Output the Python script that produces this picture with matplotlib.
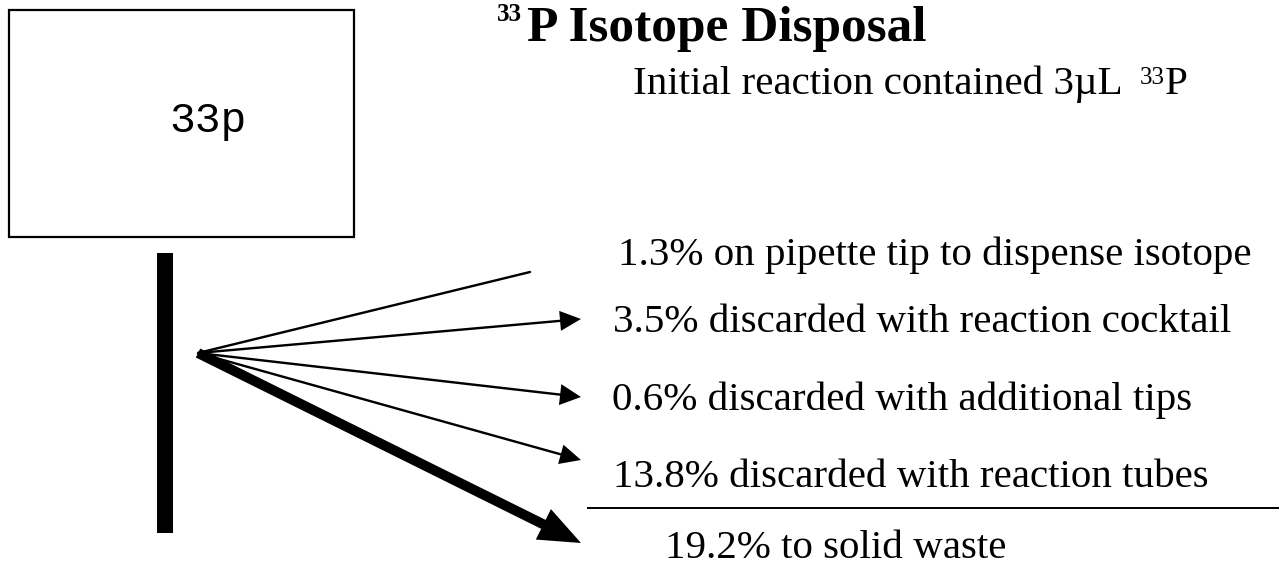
import matplotlib
matplotlib.use("Agg")
import matplotlib.pyplot as plt
from matplotlib.patches import Rectangle, FancyArrow

# ---- content ----
title_sup = "33"
title_main = "P Isotope Disposal"
subtitle_main = "Initial reaction contained 3\u00b5L"
subtitle_sup = "33"
subtitle_end = "P"
box_label = "33p"
percentages = ["1.3", "3.5", "0.6", "13.8", "19.2"]
descriptions = ["on pipette tip to dispense isotope",
                "discarded with reaction cocktail",
                "discarded with additional tips",
                "discarded with reaction tubes",
                "to solid waste"]

# ---- layout (pixels) ----
W, H = 1279, 568
fig = plt.figure(figsize=(W / 100, H / 100), dpi=100)
ax = fig.add_axes([0, 0, 1, 1])
ax.set_xlim(0, W)
ax.set_ylim(H, 0)
ax.axis("off")

serif = "Liberation Serif"

# box
ax.add_patch(Rectangle((9, 10), 345, 227, fill=False, lw=1.6, ec="black"))
ax.text(208, 132, box_label, family="Liberation Mono", fontsize=31,
        ha="center", va="baseline")

# vertical bar
ax.add_patch(Rectangle((157, 253), 16, 280, fc="black", ec="none"))

# arrows
origin = (198, 353)
ends = [(530, 272), (581, 319), (581, 397), (581, 460), (581, 543)]
widths = [2.4, 2.4, 2.4, 2.4, 10]
heads = [(0, 0), (20, 21), (21, 21), (20, 21), (34, 42)]
for (ex, ey), w, (hw, hl) in zip(ends, widths, heads):
    dx, dy = ex - origin[0], ey - origin[1]
    if hw == 0:
        ax.plot([origin[0], ex], [origin[1], ey], color="black", lw=w * 0.72,
                solid_capstyle="round")
    else:
        ax.add_patch(FancyArrow(origin[0], origin[1], dx, dy, width=w,
                                head_width=hw, head_length=hl,
                                length_includes_head=True, fc="black",
                                ec="black", lw=0))

# separator line
ax.plot([588, W], [508, 508], color="black", lw=1.4)

# title
ax.text(497, 21, title_sup, family=serif, weight="bold", fontsize=18,
        ha="left", va="baseline")
ax.text(527, 41, title_main, family=serif, weight="bold", fontsize=37,
        ha="left", va="baseline")

# subtitle
ax.text(633, 94, subtitle_main, family=serif, fontsize=29.5,
        ha="left", va="baseline")
ax.text(1140, 84, subtitle_sup, family=serif, fontsize=18,
        ha="left", va="baseline")
ax.text(1165, 94, subtitle_end, family=serif, fontsize=29.5,
        ha="left", va="baseline")

# labels
label_x = [618, 613, 612, 613, 665]
label_y = [265, 332, 410, 487, 558]
for p, d, x, y in zip(percentages, descriptions, label_x, label_y):
    ax.text(x, y, f"{p}% {d}", family=serif, fontsize=29.5,
            ha="left", va="baseline")

fig.savefig("out.png", dpi=100)
